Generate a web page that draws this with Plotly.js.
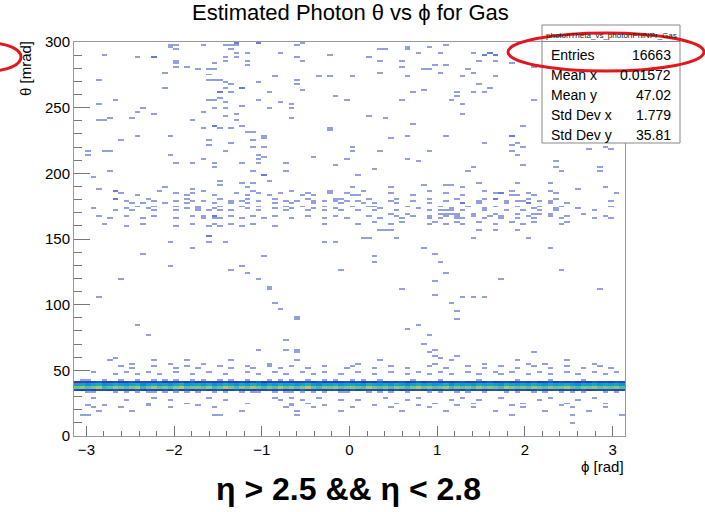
<!DOCTYPE html>
<html>
<head>
<meta charset="utf-8">
<script src="https://cdn.plot.ly/plotly-3.0.1.min.js"></script>
<style>html,body{margin:0;padding:0;background:#fff;}#plot{width:705px;height:512px;}</style>
</head>
<body>
<div id="plot"></div>
<script>
// ---- data: sparse bins [theta (mrad), [phi (rad) ...]] ----
const topRows = [
[299,[-1.29,-1.29,-1.03,-1.03,-0.53]],
[298,[-2.04,-1.67,-1.42,-1.29,-0.60]],
[297,[-1.98,-1.35,1.10]],
[296,[-2.04,0.66,0.91]],
[295,[-1.98,0.34]],
[294,[-1.35,0.40,0.66]],
[292,[-1.29,-0.78,0.78,1.60,1.60]],
[291,[-1.17,1.04,1.41]],
[290,[-2.80,-0.22,1.54,1.54,1.66,1.66]],
[289,[-2.42,0.22]],
[288,[-2.23,-2.23,-1.42,-1.29,-0.60]],
[286,[-1.98,-1.17,-0.53,0.34,0.60,1.48]],
[285,[-1.42,1.66]],
[284,[-1.98,-1.53,1.85]],
[283,[-1.17,1.10]],
[282,[0.98]],
[281,[-1.98,-1.85,0.60,2.10]],
[280,[-1.73,-1.53,0.91]],
[279,[-1.60,0.85,1.35]],
[277,[-2.10,1.04]],
[276,[0.34,1.41]],
[275,[-1.60]],
[274,[-0.85,-0.35,-0.22,0.66,1.66]],
[273,[0.03,1.29]],
[271,[-2.86,-1.53]],
[270,[-1.60,-1.48,-0.60]],
[269,[-1.42,-1.03]],
[268,[-1.35,-0.60,1.48]],
[265,[-2.10,-1.23,-1.23]],
[264,[-1.42,1.60]],
[263,[-0.53,0.85]],
[262,[-1.48,-1.35,1.41,1.54]],
[261,[-1.48,-0.92,0.72,1.22]],
[259,[-0.15,1.22]],
[257,[-1.48]],
[256,[-2.67,-1.60,-1.03]],
[255,[-1.53,-0.03,0.60,1.16,2.10]],
[254,[-1.42,-0.78]],
[252,[-2.86,-0.66,1.29]],
[251,[-1.23]],
[250,[-1.53,-0.92]],
[249,[-2.35,-1.42,-0.66]],
[247,[-2.42]],
[246,[-1.66]],
[245,[-2.23,-1.28,1.29]],
[244,[0.22]],
[243,[-1.42]],
[242,[-2.76,-2.48,-0.66,0.40]],
[240,[-2.80,-2.86,-1.78,-1.28]],
[237,[0.72]],
[236,[-1.53,-1.53,-1.23,1.98]],
[235,[-1.66,-1.35]],
[234,[-1.48,-0.22]],
[233,[-0.22]],
[232,[-1.17,-1.10]],
[229,[-2.05,-0.97,1.10,1.85,1.85]],
[228,[-2.42,0.66]],
[227,[-0.97,0.47]],
[226,[-2.60]],
[225,[-1.60,-1.10]],
[223,[1.54,1.91]],
[222,[-1.35]],
[221,[-1.60,1.85]],
[220,[-1.10,-0.97,1.98]],
[219,[0.03,2.90]],
[218,[2.75,3.00]]
];
const midRows = [
[217,[-2.80,-1.42,0.04,0.34,0.91]],
[216,[-2.98,-2.73,1.85]],
[214,[-2.98,-2.04]],
[213,[-1.03,1.91]],
[212,[-0.96,-0.42]],
[210,[-1.66,-1.03,-0.03,0.66]],
[209,[0.78,2.35]],
[208,[-1.98,-1.53,-1.03,-0.72]],
[207,[-1.78,-1.23]],
[206,[-0.15,1.97]],
[205,[-1.53,1.42]],
[204,[2.35,2.85]],
[203,[0.28]],
[202,[-2.73,-1.10]],
[201,[-0.72,1.35,2.41,2.85]],
[199,[-1.00,-0.96,0.07]],
[197,[-2.92]],
[194,[-1.49,-0.92]],
[193,[1.47,1.91,2.29]],
[192,[-1.24,-1.11]],
[191,[-1.49,0.85,1.12,1.16]],
[190,[0.46,1.29]],
[189,[-2.10,-1.16,0.03,2.92]],
[188,[-2.86,-1.78,2.63]],
[187,[-2.69,-2.69,-2.17,-1.67,-1.11,-0.68,-0.24,0.16,0.92,1.53,1.83,2.29]],
[185,[-2.60,-1.97,-1.77,-1.29,-1.04,-0.79,-0.47,-0.03,-0.22,0.50,1.11,1.64,1.72,1.72,2.06,2.36,3.05]],
[183,[-2.43,-1.86,-1.54,-1.19,-0.92,-0.56,-0.38,0.04,0.08,0.73,1.30,1.83,1.94,2.13]],
[181,[-2.67,-2.67,-2.30,-1.86,-1.48,-1.14,-0.86,-0.49,-0.16,-0.11,0.22,0.54,0.92,1.22,1.56,1.68,1.68,2.06,2.36]],
[179,[-2.54,-2.22,-1.97,-1.80,-1.65,-1.36,-1.23,-1.04,-0.72,-0.60,-0.38,-0.28,-0.05,-0.18,0.09,0.46,0.73,1.07,1.45,1.79,1.91,1.98,2.17,2.29,2.97]],
[177,[-2.47,-2.33,-2.10,-1.86,-1.55,-1.33,-1.15,-0.87,-0.64,-0.41,-0.11,0.16,0.29,0.54,0.92,1.29,1.29,1.45,1.79,2.04,2.04,2.29,2.51]],
[175,[-2.41,-2.20,-1.99,-1.74,-1.45,-1.25,-1.04,-0.73,-0.53,-0.26,0.04,0.23,0.29,0.67,1.03,1.37,1.68,1.91,2.17,2.44,2.97]],
[173,[-2.92,-2.55,-2.29,-1.86,-1.74,-1.54,-1.17,-0.87,-0.64,-0.38,-0.15,0.35,0.78,1.16,1.56,2.09,2.36,2.63]],
[171,[-2.67,-2.47,-2.21,-1.98,-1.74,-1.63,-1.48,-1.36,-1.02,-0.72,-0.49,-0.26,-0.07,0.08,0.27,0.54,0.88,1.03,1.11,1.16,1.30,1.53,1.79,1.98,2.17,2.36,2.82]],
[169,[0.46,0.65,1.03,1.11,1.16,1.22,1.41,1.68,1.89,2.09,2.17,2.29,2.70]],
[167,[-2.86,-2.54,-2.24,-1.79,-1.67,-1.54,-1.54,-1.36,-1.10,-0.87,-0.49,-0.15,0.20,0.54,0.71,0.92,1.11,1.22,1.42,1.60,1.75,2.06,2.29,2.51,2.93]],
[165,[-2.73,-2.35,-1.97,-1.67,-1.54,-1.48,-1.25,-0.98,-0.64,-0.30,0.00,0.35,0.60,0.88,1.03,1.22,1.30,1.53,1.75,1.91,2.13,2.44,2.78,3.01]],
[163,[0.29,0.58,0.98,1.22,1.45,1.83,2.13,2.48]],
[161,[-2.81,-2.36,-1.78,-1.54,-1.34,-1.10,-0.26,0.08,0.46,0.92,1.09,1.29,1.68,1.98,2.42]],
[159,[-2.54,-1.97,-1.63,-1.48,-1.22,-0.87]],
[156,[0.35,0.42,0.50,1.45,1.64,1.89]],
[152,[-1.63,-1.60]],
[151,[0.16,0.23,0.54,1.41,2.04]],
[147,[-2.05,-1.60,-1.40,-0.27,-0.16]]
];
const lowMidRows = [
[143,[-1.80,0.85,2.30]],
[139,[-2.35,1.00]],
[137,[-0.95,0.29]],
[133,[0.30,1.05]],
[129,[-2.05,-1.20]],
[127,[-1.32,-0.10,2.40]],
[123,[-1.17,1.10]],
[119,[-2.60,-1.05,1.70]],
[117,[0.95]],
[113,[-0.92]],
[111,[-0.90,0.60,2.86]],
[107,[1.00]],
[105,[-2.85,1.30,1.42,1.55]],
[101,[-0.85,1.15]],
[97,[-0.80]],
[95,[1.20]],
[91,[-0.60]],
[89,[-0.60,1.25]],
[85,[-2.40,0.78]],
[81,[0.69]],
[77,[-2.30,0.90]],
[73,[-0.75]],
[69,[0.83]],
[65,[-1.02,-0.75,-0.60,1.00]],
[63,[-0.60,0.92,2.10]],
[61,[0.96,1.22]],
[59,[-2.70,1.03]]
];
const nearBandRows = [
[57,[-2.73,-2.20,-1.84,-1.33,-0.60,0.35,1.18,1.91,2.48]],
[55,[-2.47,-2.05,-1.67,-0.91,0.12,0.99,1.53,2.02,2.25,2.78]],
[53,[-2.62,-2.24,-1.86,-1.48,-1.17,-0.94,-0.64,-0.26,0.04,0.46,0.88,1.34,1.72,2.10,2.48,2.86]],
[51,[-2.47,-2.01,-1.71,-1.33,-1.10,-0.79,-0.49,-0.03,0.27,0.65,1.11,1.56,1.94,2.29,2.67,3.01]],
[49,[-2.92,-2.54,-2.27,-1.97,-1.63,-1.17,-0.87,-0.56,-0.26,0.12,0.50,0.77,1.03,1.34,1.64,1.87,2.17,2.48,2.78,3.05]],
[47,[-2.69,-2.39,-2.16,-1.82,-1.40,-1.02,-0.72,-0.41,-0.07,0.27,0.65,0.92,1.18,1.49,1.75,2.02,2.32,2.63,2.93]],
[43,[-3.07,-2.96,-2.81,-2.62,-2.43,-2.24,-2.08,-1.97,-1.78,-1.67,-1.48,-1.33,-1.14,-0.94,-0.79,-0.64,-0.49,-0.30,-0.15,0.04,0.15,0.35,0.72,1.05,1.45,1.90,2.30,2.70]],
[33,[-3.00,-2.92,-2.69,-2.54,-2.39,-2.27,-2.20,-2.12,-1.97,-1.86,-1.74,-1.52,-1.40,-1.25,-1.10,-1.02,-0.87,-0.72,-0.64,-0.56,-0.41,-0.26,-0.11,0.00,0.20,0.35,0.50,0.65,0.88,1.03,1.22,1.37,1.56,1.79,1.94,2.10,2.25,2.40,2.55,2.70,2.90,3.05]],
[29,[-2.92,-2.24,-1.63,-0.87,-0.64,-0.34,0.42,0.80,1.26,1.72,2.32,2.78]],
[27,[-2.54,-2.05,-1.40,-0.79,-0.56,-0.11,0.12,0.69,1.18,1.49,2.17,2.63]],
[25,[-2.31,-1.86,-1.17,-0.68,-0.49,0.54,0.96,1.41,1.98,2.48,2.90]],
[23,[-3.00,-2.81,-2.27,-1.71,-0.64,-0.26,0.27,0.80,1.22,1.83,2.40]],
[21,[-2.92,-2.62,-2.05,-1.55,-0.72,-0.41,0.04,0.46,0.88,1.41,1.98,2.55,2.93]],
[19,[-2.84,-2.47,-1.25,-0.60,-0.07,0.58,1.11,1.64,2.25,2.74]],
[15,[-3.07,-3.00,-1.55,-1.48,-0.60,1.87,2.55,3.08]],
[9,[2.55]]
];
// ---- band: counts per phi bin (100 bins) for theta rows 34-36, 36-38, 38-40, 40-42 mrad ----
const band34 = [14,11,16,12,9,15,13,18,10,14, 12,17,11,15,13,10,16,12,19,11, 15,13,10,17,12,14,16,11,13,18, 12,15,11,14,10,16,13,17,12,15, 11,18,13,10,15,12,14,16,11,13, 17,12,15,10,14,13,18,11,16,12, 14,10,15,13,17,11,12,16,14,10, 13,18,12,15,11,14,16,10,13,17, 12,15,11,14,18,13,10,16,12,15, 11,14,17,12,13,16,10,15,12,14];
const band36 = [58,62,55,60,66,52,57,63,59,54, 61,65,50,58,64,56,60,53,62,67, 55,59,61,57,63,52,58,66,60,54, 62,57,65,59,53,61,56,64,58,62, 55,60,68,57,52,61,59,63,56,60, 62,58,54,65,60,57,61,55,63,59, 52,60,66,58,62,56,59,64,53,61, 57,60,55,63,58,62,59,54,66,60, 57,61,56,63,59,55,62,58,60,64, 57,53,61,59,63,56,60,58,62,55];
const band38 = [34,38,30,36,41,29,33,39,35,31, 37,42,28,34,40,32,36,30,38,43, 31,35,37,33,39,29,34,42,36,30, 38,33,41,35,29,37,32,40,34,38, 31,36,44,33,28,37,35,39,32,36, 38,34,30,41,36,33,37,31,39,35, 28,36,42,34,38,32,35,40,29,37, 33,36,31,39,34,38,35,30,42,36, 33,37,32,39,35,31,38,34,36,40, 33,29,37,35,39,32,36,34,38,31];
const band40 = [12,15,9,14,18,10,13,16,11,14, 17,12,9,15,13,19,11,14,10,16, 13,18,12,9,15,14,11,17,13,10, 16,12,14,19,11,13,15,10,17,12, 14,9,16,13,18,11,15,12,10,17, 13,16,11,14,12,19,10,15,13,17, 11,14,18,12,9,16,13,15,11,14, 17,12,10,15,13,18,11,14,16,12, 10,15,13,17,11,14,19,12,15,13, 16,11,14,12,18,10,15,13,17,14];
const bandThetaRows = [35,37,39,41];

const xTicks = [-3,-2,-1,0,1,2,3];
const statsLabels = ["Entries","Mean x","Mean y","Std Dev x","Std Dev y"];
const statsValues = ["16663","0.01572","47.02","1.779","35.81"];

// ---- build histogram grids ----
const PI = Math.PI, NX = 100, dx = 2*PI/NX;
const xc = [];
for (let i=0;i<NX;i++) xc.push(-PI + (i+0.5)*dx);
function makeGrid(ny, dy){
  const yc = [], z = [];
  for (let j=0;j<ny;j++){ yc.push((j+0.5)*dy); const r=[]; for(let i=0;i<NX;i++) r.push(null); z.push(r); }
  return {yc, z, ny, dy};
}
function addBin(g, phi, th, n){
  let ix = Math.floor((phi+PI)/dx), iy = Math.floor(th/g.dy);
  ix = Math.max(0, Math.min(NX-1, ix)); iy = Math.max(0, Math.min(g.ny-1, iy));
  g.z[iy][ix] = (g.z[iy][ix]||0) + n;
}
const sparse = makeGrid(200, 1.5);
[topRows, midRows, lowMidRows, nearBandRows].forEach(rows => rows.forEach(([th, phis]) => phis.forEach(p => addBin(sparse, p, th, 1))));
const band = makeGrid(150, 2);
[band34, band36, band38, band40].forEach((row, k) => row.forEach((v, i) => addBin(band, xc[i], bandThetaRows[k], v)));

const cs = [
 [0,'#93a0e0'],[0.014,'#6a7bd4'],[0.05,'#4257c6'],[0.14,'#2a3cb4'],[0.25,'#1d5fd9'],
 [0.4,'#1290d8'],[0.52,'#12aacb'],[0.66,'#2dbca8'],[0.8,'#7cc878'],[0.92,'#c4cd4f'],[1,'#e8cf3a']
];

const FONT = 'Liberation Sans, Arial, Helvetica, sans-serif';
const L=74, R=625, T=42, B=436;
const px = x => (x-L)/(R-L);
const py = y => (B-y)/(B-T);

const ann = [];
ann.push({text:'Estimated Photon θ vs ϕ for Gas', x:px(350), y:py(13), xref:'paper', yref:'paper', showarrow:false, xanchor:'center', yanchor:'middle', font:{family:FONT,size:22,color:'#000'}});
ann.push({text:'θ [mrad]', x:px(25), y:py(69), xref:'paper', yref:'paper', showarrow:false, textangle:-90, xanchor:'center', yanchor:'middle', font:{family:FONT,size:15,color:'#000'}});
ann.push({text:'ϕ [rad]', x:px(626), y:py(466), xref:'paper', yref:'paper', showarrow:false, xanchor:'right', yanchor:'middle', font:{family:FONT,size:15,color:'#000'}});
ann.push({text:'<b>η > 2.5 && η < 2.8</b>', x:px(348), y:py(489), xref:'paper', yref:'paper', showarrow:false, xanchor:'center', yanchor:'middle', font:{family:FONT,size:32,color:'#000'}});
ann.push({text:'photonTheta_vs_photonPhiNPr_Gas', x:px(611), y:py(35), xref:'paper', yref:'paper', showarrow:false, xanchor:'center', yanchor:'middle', font:{family:FONT,size:8,color:'#222'}});
const rowY = [54.5,74.5,94.5,114.5,134.5];
statsLabels.forEach((s,k)=>{
  ann.push({text:s, x:px(549), y:py(rowY[k]), xref:'paper', yref:'paper', showarrow:false, xanchor:'left', yanchor:'middle', font:{family:FONT,size:14,color:'#000'}});
  ann.push({text:statsValues[k], x:px(673), y:py(rowY[k]), xref:'paper', yref:'paper', showarrow:false, xanchor:'right', yanchor:'middle', font:{family:FONT,size:14,color:'#000'}});
});

const shapes = [
 {type:'rect', xref:'paper', yref:'paper', x0:px(542), x1:px(680), y0:py(25), y1:py(143), line:{color:'#888',width:1}, fillcolor:'#fff', layer:'above'},
 {type:'line', xref:'paper', yref:'paper', x0:px(542), x1:px(680), y0:py(41.5), y1:py(41.5), line:{color:'#888',width:1}, layer:'above'},
 {type:'circle', xref:'paper', yref:'paper', x0:px(508), x1:px(704), y0:py(33), y1:py(71), line:{color:'#e3161d',width:3}, layer:'above'},
 {type:'circle', xref:'paper', yref:'paper', x0:px(-40), x1:px(21), y0:py(43), y1:py(71), line:{color:'#e3161d',width:3}, layer:'above'}
];

const common = {type:'heatmap', x:xc, colorscale:cs, zmin:1, zmax:75, showscale:false, zsmooth:false, hoverinfo:'skip'};
const traceSparse = Object.assign({}, common, {y:sparse.yc, z:sparse.z});
const traceBand = Object.assign({}, common, {y:band.yc, z:band.z});

const layout = {
  width:705, height:512, margin:{l:L, r:705-R, t:T, b:512-B},
  paper_bgcolor:'#fff', plot_bgcolor:'rgba(0,0,0,0)', showlegend:false,
  font:{family:FONT, size:15, color:'#000'},
  xaxis:{range:[-PI,PI], tickvals:xTicks, ticks:'inside', ticklen:10, tickcolor:'#777', tickwidth:1,
    minor:{dtick:0.2, tick0:0, ticks:'inside', ticklen:5, tickcolor:'#777'},
    showline:true, mirror:true, linecolor:'#999', linewidth:1, showgrid:false, zeroline:false,
    tickfont:{family:FONT,size:15,color:'#000'}},
  yaxis:{range:[0,300], dtick:50, tick0:0, ticks:'inside', ticklen:16, tickcolor:'#777', tickwidth:1,
    minor:{dtick:10, tick0:0, ticks:'inside', ticklen:8, tickcolor:'#777'},
    showline:true, mirror:true, linecolor:'#999', linewidth:1, showgrid:false, zeroline:false,
    tickfont:{family:FONT,size:15,color:'#000'}},
  annotations:ann, shapes:shapes
};
Plotly.newPlot('plot',[traceSparse, traceBand],layout,{displayModeBar:false, staticPlot:true});
</script>
</body>
</html>
